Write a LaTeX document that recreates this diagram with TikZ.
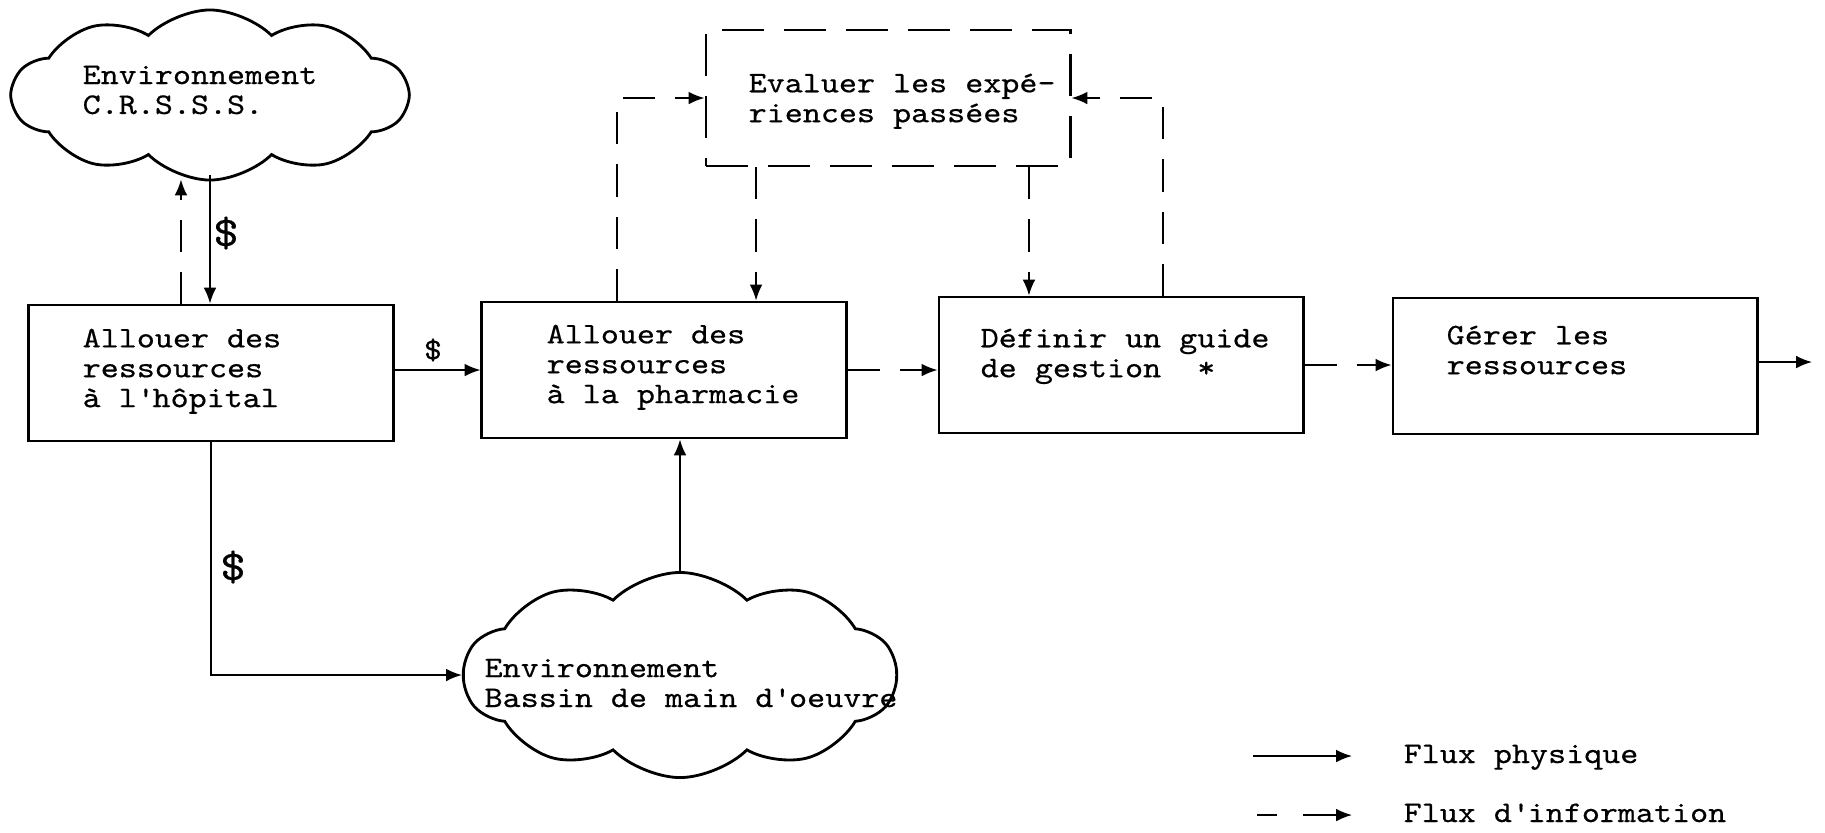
\documentclass[tikz,border=0pt]{standalone}
\usepackage{fontspec}
\newfontfamily\machine{lmmono10-regular.otf}[FakeStretch=1.15, FakeBold=0.5]
\usetikzlibrary{shapes.symbols,arrows.meta}

\tikzset{
  bloc/.style={draw, line width=0.8pt, minimum width=3.64cm, minimum height=1.36cm, inner sep=0pt},
  bloctxt/.style={anchor=north west, align=left, inner sep=0pt, font=\machine\fontsize{8.5}{8.5}\selectfont},
  txt/.style={inner sep=0pt, font=\machine\fontsize{8.5}{8.5}\selectfont},
  nuage/.style={cloud, draw, line width=0.8pt, cloud puffs=10, cloud puff arc=90, inner sep=0pt},
  dollar/.style={inner sep=0pt, font=\machine\fontsize{12}{12}\selectfont},
  flux/.style={->, line width=0.5pt},
  info/.style={->, line width=0.5pt, dash pattern=on 0.32cm off 0.2cm},
}

\begin{document}
\begin{tikzpicture}[x=0.01cm, y=-0.01cm, >={Latex[length=4.5pt,width=3.6pt]}]
\useasboundingbox (0,0) rectangle (1825,832);

% environnements
\node[nuage, minimum width=3.95cm, minimum height=1.70cm] (crsss) at (210,95) {};
\node[txt, align=left] (crssstxt) at (200,90) {Environnement\\C.R.S.S.S.};
\node[nuage, minimum width=4.32cm, minimum height=2.05cm] (bassin) at (680,675) {};
\node[txt, align=left] (bassintxt) at (691,683) {Environnement\\Bassin de main d\textquotesingle oeuvre};

% blocs
\node[bloc] (hop) at (211,373) {};
\node[bloctxt] (hoptxt) at (82,328) {Allouer des\\ressources\\à l\textquotesingle hôpital};
\node[bloc] (pha) at (664,370) {};
\node[bloctxt] (phatxt) at (546,324) {Allouer des\\ressources\\à la pharmacie};
\node[bloc, dash pattern=on 0.42cm off 0.2cm] (eva) at (888,98) {};
\node[bloctxt] (evatxt) at (748,73) {Evaluer les expé-\\riences passées};
\node[bloc] (gui) at (1121,365) {};
\node[bloctxt] (guitxt) at (980,328) {Définir un guide\\de gestion~~*};
\node[bloc] (ger) at (1575,366) {};
\node[bloctxt] (gertxt) at (1446,325) {Gérer les\\ressources};
\coordinate (sortie) at (1812,362);

% flux
\draw[flux] ([yshift=0.06cm]crsss.south) -- (crsss.south |- hop.north);
\draw[info] ([xshift=-0.3cm]hop.north) -- ([xshift=-0.3cm, yshift=0.02cm]hop.north |- crsss.south);
\node[dollar] (d1) at (226,233) {\$};
\draw[flux] (hop.east |- pha.west) -- (pha.west);
\node[dollar, font=\machine\fontsize{8.5}{8.5}\selectfont] (d2) at (433,350) {\$};
\draw[flux] (hop.south) |- (bassin.west);
\node[dollar] (d3) at (233,567) {\$};
\draw[flux] (bassin.north) -- (bassin.north |- pha.south);
\draw[info] (pha.east) -- (pha.east -| gui.west);
\draw[info] (gui.east) -- (gui.east -| ger.west);
\draw[flux] (ger.east |- sortie) -- (sortie);

% retours vers l'evaluation
\draw[info] ([xshift=-0.47cm]pha.north) |- (eva.west);
\draw[info] ([xshift=0.92cm]pha.north |- eva.south) -- ([xshift=0.92cm]pha.north);
\draw[info] ([xshift=-0.92cm]gui.north |- eva.south) -- ([xshift=-0.92cm]gui.north);
\draw[info] ([xshift=0.42cm]gui.north) |- (eva.east);

% legende
\coordinate (lp1) at (1253,756);
\coordinate (lp2) at (1352,756);
\coordinate (li1) at (1257,815);
\coordinate (li2) at (1352,815);
\draw[flux] (lp1) -- (lp2);
\draw[->, line width=0.5pt, dash pattern=on 0.2cm off 0.26cm on 0.6cm] (li1) -- (li2);
\node[txt, anchor=base west] (lphys) at (1403,763) {Flux physique};
\node[txt, anchor=base west] (linfo) at (1403,822) {Flux d\textquotesingle information};

\end{tikzpicture}
\end{document}
